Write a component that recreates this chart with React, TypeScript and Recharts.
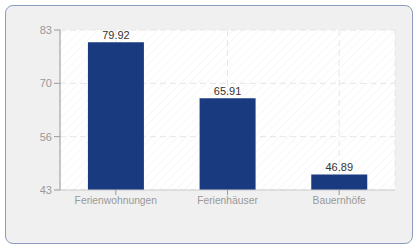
import React from 'react';
import { BarChart, Bar, XAxis, YAxis, CartesianGrid, LabelList } from 'recharts';

const categories = ['Ferienwohnungen', 'Ferienhäuser', 'Bauernhöfe'];
const values = [79.92, 65.91, 46.89];
const yTicks = [43, 56.33, 69.67, 83];

const data = categories.map((name, i) => ({ name, value: values[i] }));

export default function App() {
  return (
    <div style={{ position: 'absolute', left: 0, top: 0, width: 420, height: 250, fontFamily: '"Liberation Sans", Arial, sans-serif' }}>
      <div
        style={{
          position: 'absolute',
          left: 5,
          top: 5,
          width: 406,
          height: 237,
          background: '#f0f0f0',
          border: '1px solid #8a9bbd',
          borderRadius: 8,
        }}
      />
      <div style={{ position: 'absolute', left: 0, top: 0 }}>
        <BarChart width={420} height={250} data={data} margin={{ top: 30, right: 25, bottom: 30, left: 0 }} barCategoryGap="25%">
          <defs>
            <pattern id="hatch" width="6" height="6" patternUnits="userSpaceOnUse" patternTransform="rotate(45)">
              <rect width="6" height="6" fill="#ffffff" />
              <line x1="0" y1="0" x2="0" y2="6" stroke="#f5f5f5" strokeWidth="1.5" />
            </pattern>
          </defs>
          <CartesianGrid fill="url(#hatch)" stroke="#e6e6e6" strokeDasharray="6 4" />
          <XAxis
            dataKey="name"
            height={30}
            tick={{ fill: '#999999', fontSize: 10.3 }}
            tickLine={{ stroke: '#999999' }}
            tickSize={5}
            axisLine={{ stroke: '#cccccc' }}
          />
          <YAxis
            width={60}
            domain={[43, 83]}
            ticks={yTicks}
            interval={0}
            tickFormatter={(v: number) => String(Math.round(v))}
            tick={{ fill: '#999999', fontSize: 11 }}
            tickLine={{ stroke: '#999999' }}
            tickSize={6}
            axisLine={{ stroke: '#999999' }}
            allowDataOverflow
          />
          <Bar dataKey="value" fill="#1a3a80" isAnimationActive={false}>
            <LabelList dataKey="value" position="top" offset={3} fill="#333333" fontSize={11} />
          </Bar>
        </BarChart>
      </div>
    </div>
  );
}
